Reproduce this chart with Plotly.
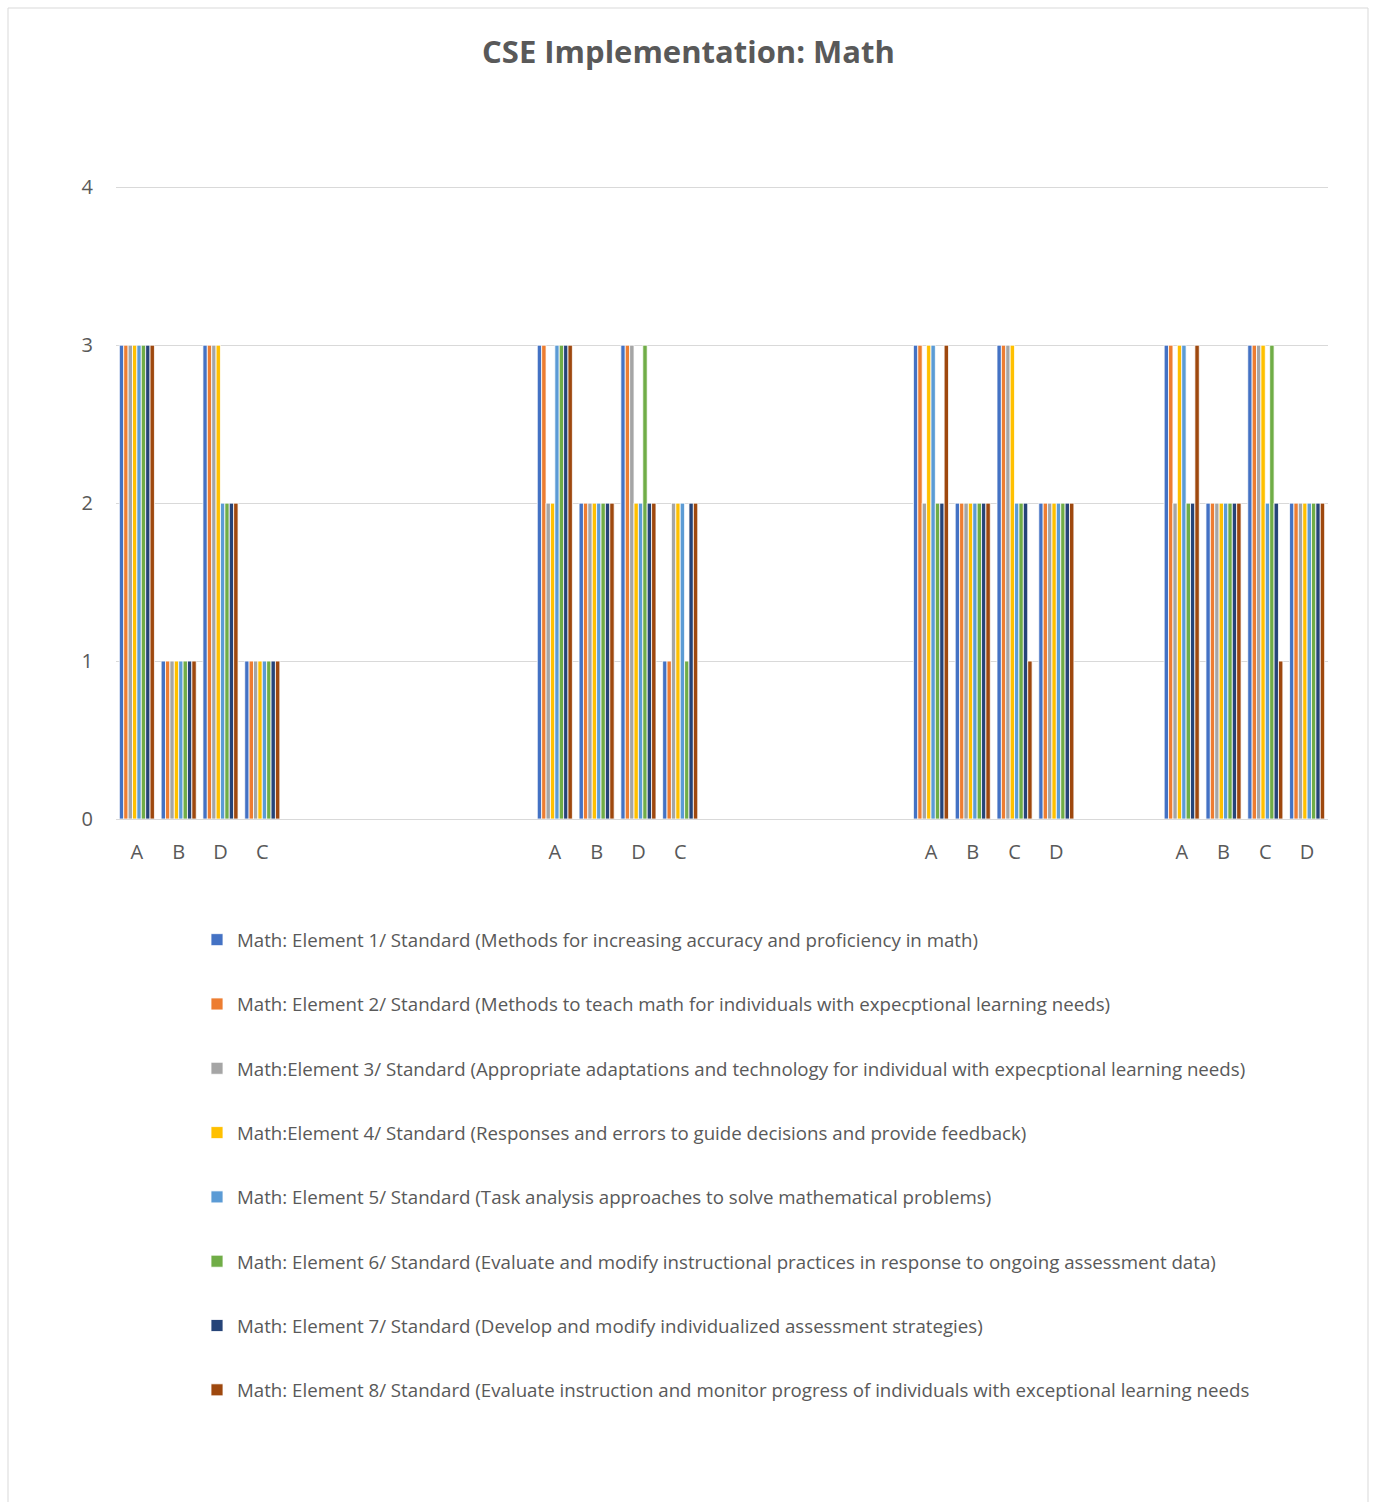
import plotly.graph_objects as go

categories = ["A", "B", "D", "C", "", "", "", "", "", "",
              "A", "B", "D", "C", "", "", "", "", "",
              "A", "B", "C", "D", "", "",
              "A", "B", "C", "D"]

N = None
e1 = [3, 1, 3, 1, N, N, N, N, N, N, 3, 2, 3, 1, N, N, N, N, N, 3, 2, 3, 2, N, N, 3, 2, 3, 2]
e2 = [3, 1, 3, 1, N, N, N, N, N, N, 3, 2, 3, 1, N, N, N, N, N, 3, 2, 3, 2, N, N, 3, 2, 3, 2]
e3 = [3, 1, 3, 1, N, N, N, N, N, N, 2, 2, 3, 2, N, N, N, N, N, 2, 2, 3, 2, N, N, 2, 2, 3, 2]
e4 = [3, 1, 3, 1, N, N, N, N, N, N, 2, 2, 2, 2, N, N, N, N, N, 3, 2, 3, 2, N, N, 3, 2, 3, 2]
e5 = [3, 1, 2, 1, N, N, N, N, N, N, 3, 2, 2, 2, N, N, N, N, N, 3, 2, 2, 2, N, N, 3, 2, 2, 2]
e6 = [3, 1, 2, 1, N, N, N, N, N, N, 3, 2, 3, 1, N, N, N, N, N, 2, 2, 2, 2, N, N, 2, 2, 3, 2]
e7 = [3, 1, 2, 1, N, N, N, N, N, N, 3, 2, 2, 2, N, N, N, N, N, 2, 2, 2, 2, N, N, 2, 2, 2, 2]
e8 = [3, 1, 2, 1, N, N, N, N, N, N, 3, 2, 2, 2, N, N, N, N, N, 3, 2, 1, 2, N, N, 3, 2, 1, 2]

series_names = [
    "Math: Element 1/ Standard (Methods for increasing accuracy and proficiency in math)",
    "Math: Element 2/ Standard (Methods to teach math for individuals with expecptional learning needs)",
    "Math:Element 3/ Standard (Appropriate adaptations and technology for individual with expecptional learning needs)",
    "Math:Element 4/ Standard (Responses and errors to guide decisions and provide feedback)",
    "Math: Element 5/ Standard (Task analysis approaches to solve mathematical problems)",
    "Math: Element 6/ Standard (Evaluate and modify instructional practices in response to ongoing assessment data)",
    "Math: Element 7/ Standard (Develop and modify individualized assessment strategies)",
    "Math: Element 8/ Standard (Evaluate instruction and monitor progress of individuals with exceptional learning needs",
]
series_values = [e1, e2, e3, e4, e5, e6, e7, e8]
colors = ["#4472C4", "#ED7D31", "#A5A5A5", "#FFC000", "#5B9BD5", "#70AD47", "#264478", "#9E480E"]

x_pos = list(range(len(categories)))
FONT = "Open Sans"
TXT = "#595959"

fig = go.Figure()
for i, (name, vals, col) in enumerate(zip(series_names, series_values, colors)):
    fig.add_trace(go.Bar(
        x=x_pos, y=vals, name=name, legendgroup=f"g{i}",
        marker=dict(color=col, line=dict(color="white", width=0.8)),
    ))

W, H = 1377, 1502
L, R, T, B = 116, 49, 186, 683
pw = W - L - R
ph = H - T - B

def px_x(p):
    return (p - L) / pw

def px_y(p):
    return (H - B - p) / ph

fig.update_layout(
    width=W, height=H,
    margin=dict(l=L, r=R, t=T, b=B),
    paper_bgcolor="white", plot_bgcolor="white",
    barmode="group", bargap=0.16, bargroupgap=0,
    font=dict(family=FONT, color=TXT, size=18.7),
    title=dict(text="<b>CSE Implementation: Math</b>", x=0.5, xanchor="center",
               y=1 - 52 / H, yanchor="middle", font=dict(size=31, color=TXT, family=FONT)),
    showlegend=True,
    legend=dict(orientation="v", x=px_x(197), xanchor="left", y=px_y(921), yanchor="top",
                font=dict(size=18.7, color=TXT, family=FONT), tracegroupgap=37,
                itemwidth=30, bgcolor="rgba(0,0,0,0)"),
    xaxis=dict(range=[-0.5, len(categories) - 0.5], tickmode="array", tickvals=x_pos,
               ticktext=categories, showgrid=False, zeroline=False, showline=True,
               linecolor="#D9D9D9", linewidth=1, ticks="", ticklabelstandoff=15,
               tickfont=dict(size=20, color=TXT)),
    yaxis=dict(range=[0, 4.008], dtick=1, tick0=0, showgrid=True, gridcolor="#D9D9D9",
               gridwidth=1, zeroline=False, showline=False, ticks="", ticklabelstandoff=22,
               tickfont=dict(size=20, color=TXT)),
)

fig.add_shape(type="rect", xref="paper", yref="paper",
              x0=px_x(8), x1=px_x(1368), y0=px_y(1510), y1=px_y(8),
              line=dict(color="#D9D9D9", width=1), fillcolor="rgba(0,0,0,0)", layer="below")

fig.write_html("out.html")
